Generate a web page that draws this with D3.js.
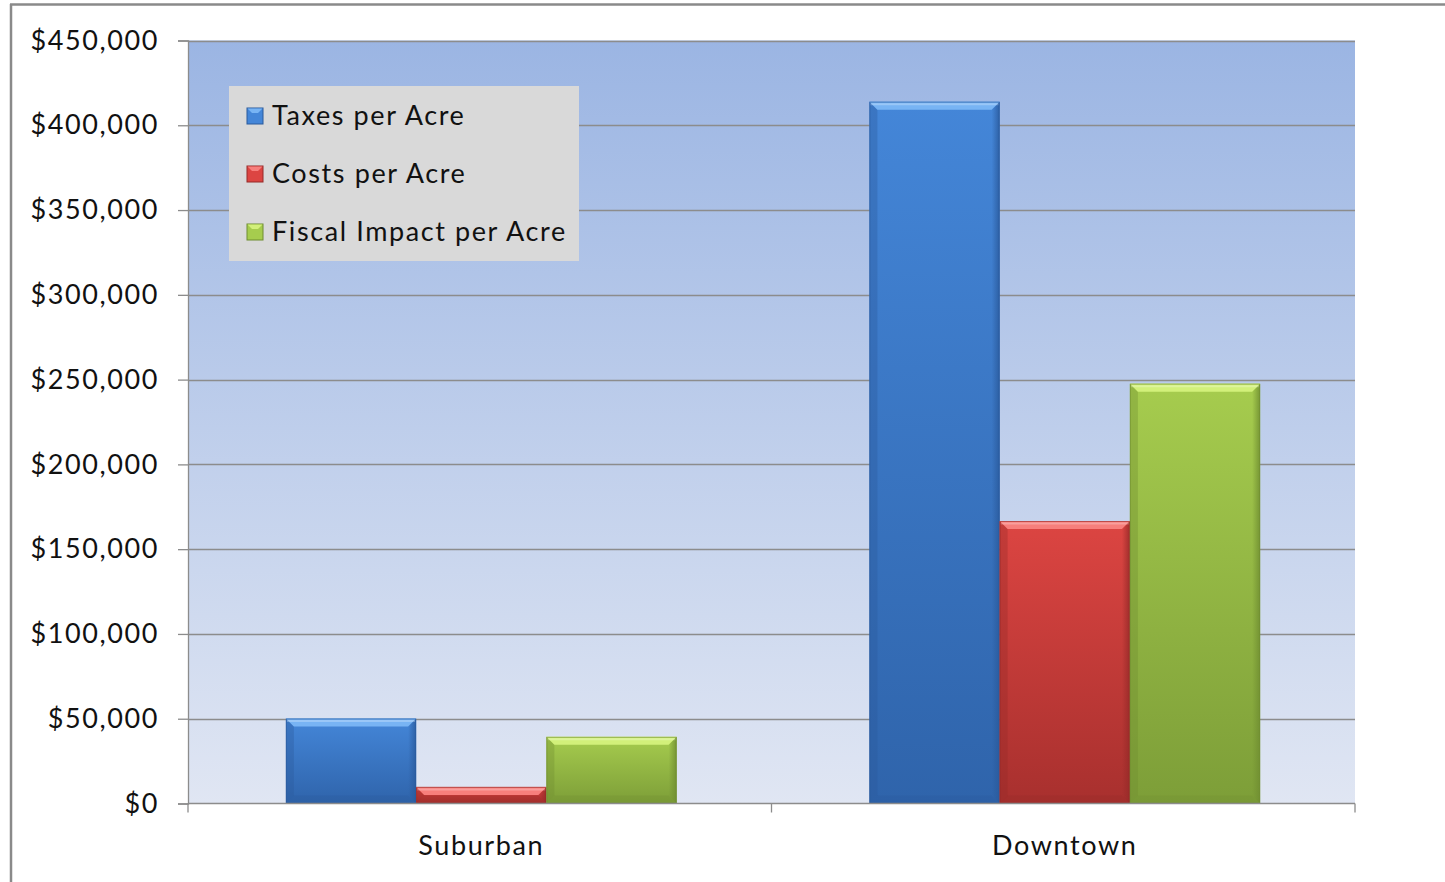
<!DOCTYPE html>
<html>
<head>
<meta charset="utf-8">
<script src="https://cdn.jsdelivr.net/npm/d3@7"></script>
<style>
  html, body { margin: 0; padding: 0; background: #ffffff; }
  svg { display: block; }
  text { font-family: Lato, "Open Sans", sans-serif; fill: #111; letter-spacing: 1.6px; }
</style>
</head>
<body>
<svg id="chart" width="1445" height="882"></svg>
<script>
// Per-acre fiscal figures by development type
const categories = ["Suburban", "Downtown"];
const seriesNames = ["Taxes per Acre", "Costs per Acre", "Fiscal Impact per Acre"];
const taxesPerAcre = [50100, 413900];
const costsPerAcre = [9800, 166600];
const fiscalImpactPerAcre = [39300, 247600];
const yTicks = [0, 50000, 100000, 150000, 200000, 250000, 300000, 350000, 400000, 450000];

const seriesValues = [taxesPerAcre, costsPerAcre, fiscalImpactPerAcre];
const palette = [
  { top: "#4486d8", bottom: "#2f64ab", light: "#78b4f4", dark: "#2a5a9c" },
  { top: "#dc4542", bottom: "#a8302e", light: "#f77f7c", dark: "#962a28" },
  { top: "#a6cc4e", bottom: "#7d9e38", light: "#d2f07a", dark: "#6f8d31" }
];

const svg = d3.select("#chart");
const plot = { left: 188, right: 1355, top: 40.5, bottom: 803.5 };

const x0 = d3.scaleBand().domain(categories).range([plot.left, plot.right]).padding(0);
const x1 = d3.scaleBand().domain(seriesNames).range([1.5, x0.bandwidth() + 1.5])
  .paddingInner(0).paddingOuter(0.74);
const y = d3.scaleLinear().domain([0, 450000]).range([plot.bottom, plot.top]);

const defs = svg.append("defs");

// plot area background: deeper blue at top fading to pale at bottom
const bg = defs.append("linearGradient").attr("id", "plotBg")
  .attr("x1", 0).attr("y1", 0).attr("x2", 0).attr("y2", 1);
bg.append("stop").attr("offset", "0%").attr("stop-color", "#9bb5e3");
bg.append("stop").attr("offset", "100%").attr("stop-color", "#e0e6f3");

palette.forEach((c, i) => {
  const g = defs.append("linearGradient").attr("id", "barFill" + i)
    .attr("x1", 0).attr("y1", 0).attr("x2", 0).attr("y2", 1);
  g.append("stop").attr("offset", "0%").attr("stop-color", c.top);
  g.append("stop").attr("offset", "100%").attr("stop-color", c.bottom);
  const s = defs.append("linearGradient").attr("id", "sideShade" + i)
    .attr("x1", 0).attr("y1", 0).attr("x2", 1).attr("y2", 0);
  s.append("stop").attr("offset", "0%").attr("stop-color", c.dark).attr("stop-opacity", 0.0);
  s.append("stop").attr("offset", "100%").attr("stop-color", c.dark).attr("stop-opacity", 0.85);
});

// outer chart frame (left and top edges)
svg.append("line").attr("x1", 11).attr("x2", 11).attr("y1", 4).attr("y2", 882)
  .attr("stroke", "#8a8a8a").attr("stroke-width", 2.5);
svg.append("line").attr("x1", 10).attr("x2", 1445).attr("y1", 4.5).attr("y2", 4.5)
  .attr("stroke", "#8a8a8a").attr("stroke-width", 2.5);

// plot background
svg.append("rect")
  .attr("x", plot.left).attr("y", plot.top)
  .attr("width", plot.right - plot.left).attr("height", plot.bottom - plot.top)
  .attr("fill", "url(#plotBg)");

// horizontal gridlines
svg.append("g").selectAll("line").data(yTicks.filter(d => d > 0)).join("line")
  .attr("x1", plot.left).attr("x2", plot.right)
  .attr("y1", d => Math.round(y(d)) + 0.5).attr("y2", d => Math.round(y(d)) + 0.5)
  .attr("stroke", "#8c8c8c").attr("stroke-width", 1.3);

// y axis
const yAxis = svg.append("g").attr("transform", `translate(${plot.left},0)`)
  .call(d3.axisLeft(y).tickValues(yTicks).tickSize(10).tickPadding(19)
    .tickFormat(d => "$" + d3.format(",")(d)));
yAxis.select(".domain").attr("stroke", "#8c8c8c").attr("stroke-width", 1.3);
yAxis.selectAll(".tick line").attr("stroke", "#8c8c8c").attr("stroke-width", 1.3);
yAxis.selectAll(".tick text").attr("font-size", 27).attr("fill", "#111")
  .attr("font-family", "Lato, sans-serif").attr("dy", "0.32em");

// bars with bevelled edges
const bevel = 8;
const groups = svg.append("g").selectAll("g").data(categories).join("g")
  .attr("transform", d => `translate(${x0(d)},0)`);

groups.each(function (cat, ci) {
  const g = d3.select(this);
  seriesNames.forEach((name, si) => {
    const v = seriesValues[si][ci];
    const bx = x1(name), bw = x1.bandwidth();
    const by = y(v), bh = y(0) - y(v);
    const c = palette[si];
    const b = Math.min(bevel, bh / 2, bw / 2);
    g.append("rect").attr("x", bx).attr("y", by).attr("width", bw).attr("height", bh)
      .attr("fill", `url(#barFill${si})`);
    // right side shading
    g.append("polygon")
      .attr("points", [[bx + bw - b, by + b], [bx + bw, by], [bx + bw, by + bh], [bx + bw - b, by + bh - b]].join(" "))
      .attr("fill", `url(#sideShade${si})`);
    // left side shading
    g.append("polygon")
      .attr("points", [[bx, by], [bx + b, by + b], [bx + b, by + bh - b], [bx, by + bh]].join(" "))
      .attr("fill", c.dark).attr("opacity", 0.35);
    // bottom edge
    g.append("polygon")
      .attr("points", [[bx, by + bh], [bx + b, by + bh - b], [bx + bw - b, by + bh - b], [bx + bw, by + bh]].join(" "))
      .attr("fill", c.dark).attr("opacity", 0.3);
    // top highlight
    g.append("polygon")
      .attr("points", [[bx, by], [bx + bw, by], [bx + bw - b, by + b], [bx + b, by + b]].join(" "))
      .attr("fill", c.light);
    g.append("line").attr("x1", bx + 1).attr("x2", bx + bw - 1)
      .attr("y1", by + 2.5).attr("y2", by + 2.5)
      .attr("stroke", "#ffffff").attr("stroke-opacity", 0.25).attr("stroke-width", 2);
    g.append("rect").attr("x", bx + 0.5).attr("y", by + 0.5).attr("width", bw - 1).attr("height", bh - 1)
      .attr("fill", "none").attr("stroke", c.dark).attr("stroke-opacity", 0.6).attr("stroke-width", 1);
  });
});

// x axis baseline and category dividers
svg.append("line").attr("x1", plot.left).attr("x2", plot.right)
  .attr("y1", plot.bottom).attr("y2", plot.bottom)
  .attr("stroke", "#8c8c8c").attr("stroke-width", 1.3);
const dividers = [plot.left, x0(categories[1]), plot.right];
svg.append("g").selectAll("line").data(dividers).join("line")
  .attr("x1", d => d).attr("x2", d => d)
  .attr("y1", plot.bottom).attr("y2", plot.bottom + 9)
  .attr("stroke", "#8c8c8c").attr("stroke-width", 1.3);

svg.append("g").selectAll("text").data(categories).join("text")
  .attr("x", d => x0(d) + x0.bandwidth() / 2 + 1.5)
  .attr("y", 855)
  .attr("text-anchor", "middle")
  .attr("font-size", 27)
  .text(d => d);

// legend
const legend = svg.append("g");
legend.append("rect").attr("x", 229).attr("y", 86).attr("width", 350).attr("height", 175)
  .attr("fill", "#d9d9d9");
seriesNames.forEach((name, i) => {
  const cy = 116 + i * 58;
  const c = palette[i];
  legend.append("rect").attr("x", 247).attr("y", cy - 8).attr("width", 16).attr("height", 16)
    .attr("fill", c.top).attr("stroke", c.dark).attr("stroke-width", 1);
  legend.append("polygon")
    .attr("points", [[247.5, cy - 7.5], [262.5, cy - 7.5], [258, cy - 3], [252, cy - 3]].join(" "))
    .attr("fill", c.light);
  legend.append("text").attr("x", 272).attr("y", cy).attr("dy", "0.35em")
    .attr("font-size", 27).text(name);
});
</script>
</body>
</html>
